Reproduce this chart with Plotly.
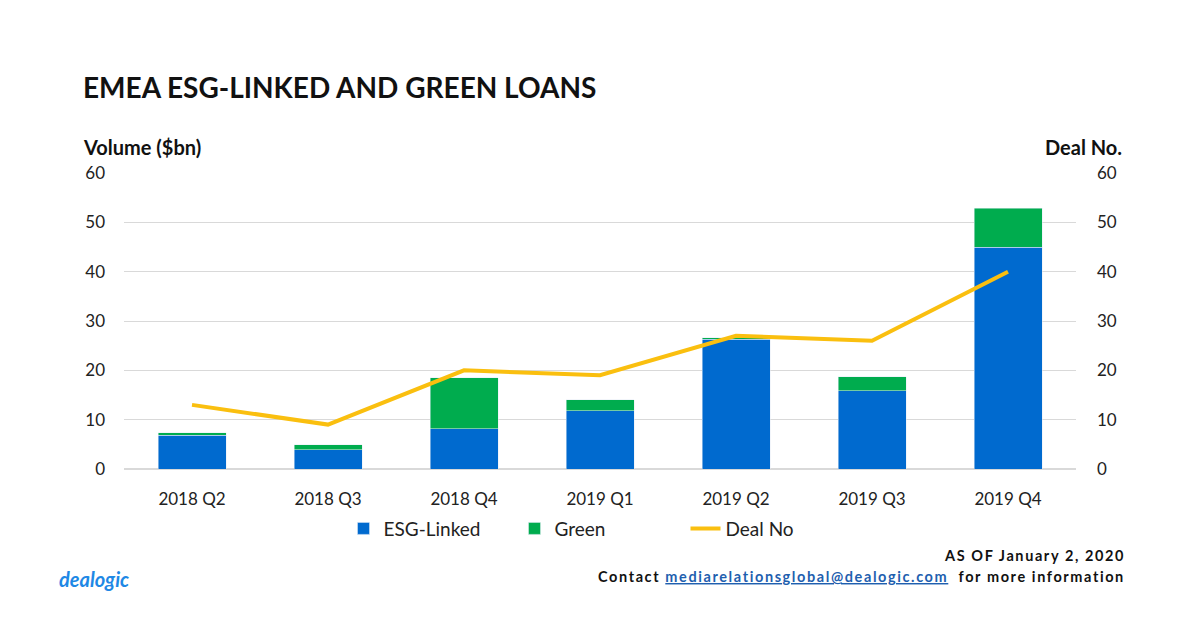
import plotly.graph_objects as go

# Quarterly EMEA loan volumes ($bn) and deal counts
quarters = ["2018 Q2", "2018 Q3", "2018 Q4", "2019 Q1", "2019 Q2", "2019 Q3", "2019 Q4"]
esg_linked = [6.8, 3.9, 8.2, 11.8, 26.3, 15.9, 45.0]
green = [0.5, 1.0, 10.3, 2.2, 0.3, 2.8, 7.9]
deal_no = [13, 9, 20, 19, 27, 26, 40]

FONT = "Lato"
BLUE = "#006ACF"
GREEN = "#00AC4E"
YELLOW = "#FABF0F"

fig = go.Figure()
fig.add_trace(go.Bar(x=quarters, y=esg_linked, name="ESG-Linked", marker_color=BLUE))
fig.add_trace(go.Bar(x=quarters, y=green, name="Green", marker_color=GREEN))
fig.add_trace(go.Scatter(x=quarters, y=deal_no, name="Deal No", mode="lines",
                         line=dict(color=YELLOW, width=4), yaxis="y2"))

fig.update_layout(
    width=1200, height=624,
    barmode="stack", bargap=0.5,
    plot_bgcolor="white", paper_bgcolor="white",
    font=dict(family=FONT, size=17, color="#222222"),
    margin=dict(l=124, r=124, t=173, b=155),
    xaxis=dict(showgrid=False, showline=False, ticks="", tickfont=dict(size=17),
               ticklabelstandoff=18),
    yaxis=dict(range=[0, 60], dtick=10, gridcolor="#D9D9D9", gridwidth=1,
               zeroline=True, zerolinecolor="#D9D9D9", ticks="", ticklabelstandoff=18),
    yaxis2=dict(range=[0, 60], dtick=10, overlaying="y", side="right",
                showgrid=False, zeroline=False, ticks="", ticklabelstandoff=20),
    legend=dict(orientation="h", x=0.5, xanchor="center", y=-0.137, yanchor="top",
                font=dict(size=19), traceorder="normal", entrywidth=126),
    showlegend=True,
)

fig.add_annotation(text="<b>EMEA ESG-LINKED AND GREEN LOANS</b>", xref="paper", yref="paper",
                   x=-0.045, y=1.29, xanchor="left", yanchor="middle", showarrow=False,
                   font=dict(size=28, color="#111111"))
fig.add_annotation(text="<b>Volume ($bn)</b>", xref="paper", yref="paper",
                   x=-0.045, y=1.087, xanchor="left", yanchor="middle", showarrow=False,
                   font=dict(size=20, color="#111111"))
fig.add_annotation(text="<b>Deal No.</b>", xref="paper", yref="paper",
                   x=1.05, y=1.087, xanchor="right", yanchor="middle", showarrow=False,
                   font=dict(size=20, color="#111111"))
fig.add_annotation(text="<b><span style='letter-spacing:1.6px'>AS OF January 2, 2020</span></b>",
                   xref="paper", yref="paper",
                   x=1.054, y=-0.293, xanchor="right", yanchor="middle", showarrow=False,
                   font=dict(size=14.5, color="#111111"))
fig.add_annotation(
    text="<b><span style='letter-spacing:1.6px'>Contact "
         "<span style='color:#1F5FAF;text-decoration:underline'>mediarelationsglobal@dealogic.com</span>"
         "  for more information</span></b>",
    xref="paper", yref="paper", x=1.054, y=-0.364, xanchor="right", yanchor="middle",
    showarrow=False, font=dict(size=14.5, color="#111111"))
fig.add_annotation(text="<b><i>dealogic</i></b>", xref="paper", yref="paper",
                   x=-0.07, y=-0.37, xanchor="left", yanchor="middle", showarrow=False,
                   font=dict(size=20, color="#1E88E5"))

fig.write_html("out.html", config={"displayModeBar": False},
               post_script="document.body.style.margin='0';")
